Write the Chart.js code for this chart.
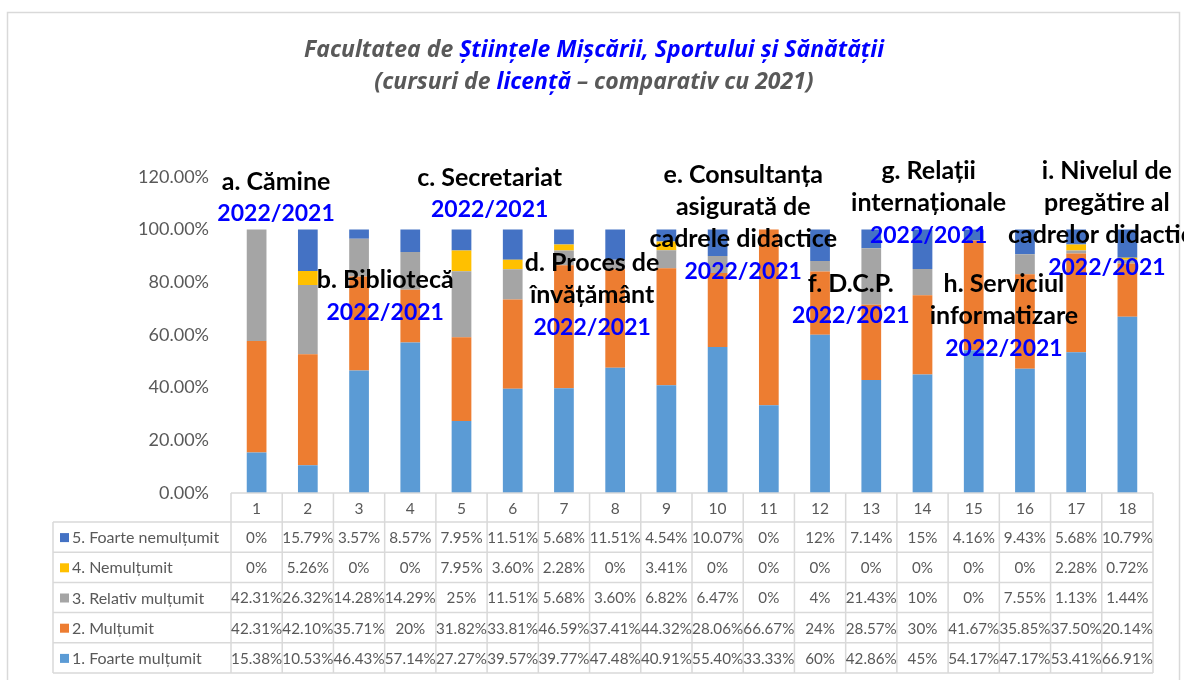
<!DOCTYPE html>
<html>
<head>
<meta charset="utf-8">
<script src="https://cdn.jsdelivr.net/npm/chart.js@4"></script>
<style>
  body { margin: 0; background: #fff; }
</style>
</head>
<body>
<canvas id="surveyChart" width="1184" height="680"></canvas>
<script>
// categories (question number) and series values, in %
var categories = ['1', '2', '3', '4', '5', '6', '7', '8', '9', '10', '11', '12', '13', '14', '15', '16', '17', '18'];
var foarteMultumit = [15.38, 10.53, 46.43, 57.14, 27.27, 39.57, 39.77, 47.48, 40.91, 55.40, 33.33, 60, 42.86, 45, 54.17, 47.17, 53.41, 66.91];
var multumit = [42.31, 42.10, 35.71, 20, 31.82, 33.81, 46.59, 37.41, 44.32, 28.06, 66.67, 24, 28.57, 30, 41.67, 35.85, 37.50, 20.14];
var relativMultumit = [42.31, 26.32, 14.28, 14.29, 25, 11.51, 5.68, 3.60, 6.82, 6.47, 0, 4, 21.43, 10, 0, 7.55, 1.13, 1.44];
var nemultumit = [0, 5.26, 0, 0, 7.95, 3.60, 2.28, 0, 3.41, 0, 0, 0, 0, 0, 0, 0, 2.28, 0.72];
var foarteNemultumit = [0, 15.79, 3.57, 8.57, 7.95, 11.51, 5.68, 11.51, 4.54, 10.07, 0, 12, 7.14, 15, 4.16, 9.43, 5.68, 10.79];
var seriesNames = ['1. Foarte mulțumit', '2. Mulțumit', '3. Relativ mulțumit', '4. Nemulțumit', '5. Foarte nemulțumit'];
var yTicks = [0, 20, 40, 60, 80, 100, 120];

// section captions written over the bars
var sectionLabels = [
    ['a. Cămine'],
    ['b. Bibliotecă'],
    ['c. Secretariat'],
    ['d. Proces de', 'învățământ'],
    ['e. Consultanța', 'asigurată de', 'cadrele didactice'],
    ['f. D.C.P.'],
    ['g. Relații', 'internaționale'],
    ['h. Serviciul', 'informatizare'],
    ['i. Nivelul de', 'pregătire al', 'cadrelor didactice']
];
var yearLabel = '2022/2021';

var GREY = '#595959';
var BLUE = '#0000FF';
var colors = ['#5B9BD5', '#ED7D31', '#A5A5A5', '#FFC000', '#4472C4'];
var FONT = 'Lato, "Noto Sans", sans-serif';

function fmt(v) {
    return (Math.round(v) === v ? String(v) : v.toFixed(2)) + '%';
}

// where each caption sits: category index (fractional) and value of first line
var labelSpots = [
    { idx: 0.38, val: 118.2 },
    { idx: 2.51, val: 80.7 },
    { idx: 4.55, val: 119.7 },
    { idx: 6.55, val: 87.1 },
    { idx: 9.5, val: 120.5 },
    { idx: 11.6, val: 79.5 },
    { idx: 13.12, val: 122.0 },
    { idx: 14.59, val: 79.2 },
    { idx: 16.6, val: 122.0 }
];

var titlePlugin = {
    id: 'titleAndFrame',
    beforeDraw: function (chart) {
        var ctx = chart.ctx;
        ctx.save();
        ctx.strokeStyle = '#D9D9D9';
        ctx.lineWidth = 1.5;
        ctx.strokeRect(7.5, 12.5, 1172, 700);
        var lines = [
            [[GREY, 'Facultatea de '], [BLUE, 'Științele Mișcării, Sportului și Sănătății']],
            [[GREY, '(cursuri de '], [BLUE, 'licență'], [GREY, ' – comparativ cu 2021)']]
        ];
        var ys = [50, 82];
        ctx.font = 'italic bold 23px "Open Sans", sans-serif';
        ctx.textBaseline = 'middle';
        ctx.textAlign = 'left';
        lines.forEach(function (parts, i) {
            var total = 0;
            parts.forEach(function (p) { total += ctx.measureText(p[1]).width; });
            var x = 594 - total / 2;
            parts.forEach(function (p) {
                ctx.fillStyle = p[0];
                ctx.fillText(p[1], x, ys[i]);
                x += ctx.measureText(p[1]).width;
            });
        });
        ctx.restore();
    }
};

var tablePlugin = {
    id: 'dataTable',
    afterDraw: function (chart) {
        var ctx = chart.ctx;
        var xs = chart.scales.x;
        var area = chart.chartArea;
        var colW = (xs.right - xs.left) / categories.length;
        var top = area.bottom;
        var headH = 29;
        var rowH = 30.2;
        var legendLeft = 53;
        var rows = [
            [foarteNemultumit, 4],
            [nemultumit, 3],
            [relativMultumit, 2],
            [multumit, 1],
            [foarteMultumit, 0]
        ];
        var bottom = top + headH + rows.length * rowH;
        ctx.save();
        ctx.strokeStyle = '#D9D9D9';
        ctx.lineWidth = 1.5;
        // horizontal lines
        ctx.beginPath();
        ctx.moveTo(xs.left, top);
        ctx.lineTo(xs.right, top);
        for (var r = 0; r <= rows.length; r++) {
            var y = top + headH + r * rowH;
            ctx.moveTo(legendLeft, y);
            ctx.lineTo(xs.right, y);
        }
        // vertical lines
        for (var c = 0; c <= categories.length; c++) {
            var x = xs.left + c * colW;
            ctx.moveTo(x, top);
            ctx.lineTo(x, bottom);
        }
        ctx.moveTo(legendLeft, top + headH);
        ctx.lineTo(legendLeft, bottom);
        ctx.stroke();

        ctx.fillStyle = GREY;
        ctx.font = '15.5px ' + FONT;
        ctx.textAlign = 'center';
        ctx.textBaseline = 'middle';
        categories.forEach(function (cat, i) {
            ctx.fillText(cat, xs.left + (i + 0.5) * colW, top + headH / 2 + 1);
        });
        rows.forEach(function (row, r) {
            var yc = top + headH + (r + 0.5) * rowH + 1;
            ctx.fillStyle = colors[row[1]];
            ctx.fillRect(60, yc - 5, 9, 9);
            ctx.fillStyle = GREY;
            ctx.textAlign = 'left';
            ctx.font = '16px ' + FONT;
            ctx.fillText(seriesNames[row[1]], 72, yc);
            ctx.textAlign = 'center';
            ctx.font = '15.2px ' + FONT;
            row[0].forEach(function (v, i) {
                ctx.fillText(fmt(v), xs.left + (i + 0.5) * colW, yc);
            });
        });
        ctx.restore();
    }
};

var captionPlugin = {
    id: 'captions',
    afterDatasetsDraw: function (chart) {
        var ctx = chart.ctx;
        var xs = chart.scales.x;
        var ys = chart.scales.y;
        ctx.save();
        ctx.textAlign = 'center';
        ctx.textBaseline = 'middle';
        sectionLabels.forEach(function (lines, k) {
            var spot = labelSpots[k];
            var x = xs.getPixelForValue(spot.idx);
            var y = ys.getPixelForValue(spot.val);
            lines.concat([yearLabel]).forEach(function (txt, j) {
                var isYear = j === lines.length;
                ctx.fillStyle = isYear ? BLUE : '#000000';
                ctx.font = 'bold ' + (isYear ? 23 : 25) + 'px ' + FONT;
                ctx.fillText(txt, x, y + j * 32);
            });
        });
        ctx.restore();
    }
};

var seriesData = [foarteMultumit, multumit, relativMultumit, nemultumit, foarteNemultumit];

var ctx = document.getElementById('surveyChart').getContext('2d');
var myChart = new Chart(ctx, {
    type: 'bar',
    data: {
        labels: categories,
        datasets: seriesData.map(function (vals, i) {
            return {
                label: seriesNames[i],
                data: vals,
                backgroundColor: colors[i],
                borderWidth: 0,
                barPercentage: 0.385,
                categoryPercentage: 1
            };
        })
    },
    options: {
        responsive: false,
        animation: false,
        layout: {
            padding: { left: 0, right: 31, top: 176.7, bottom: 187 }
        },
        plugins: {
            legend: { display: false },
            tooltip: { enabled: false },
            title: { display: false }
        },
        scales: {
            x: {
                stacked: true,
                display: false
            },
            y: {
                stacked: true,
                min: 0,
                max: 120,
                afterFit: function (scale) { scale.width = 231; },
                afterBuildTicks: function (scale) {
                    scale.ticks = yTicks.map(function (v) { return { value: v }; });
                },
                grid: { display: false, drawTicks: false },
                border: { display: false },
                ticks: {
                    padding: 22,
                    color: GREY,
                    font: { family: FONT, size: 18 },
                    callback: function (v) { return v.toFixed(2) + '%'; }
                }
            }
        }
    },
    plugins: [titlePlugin, tablePlugin, captionPlugin]
});
</script>
</body>
</html>
